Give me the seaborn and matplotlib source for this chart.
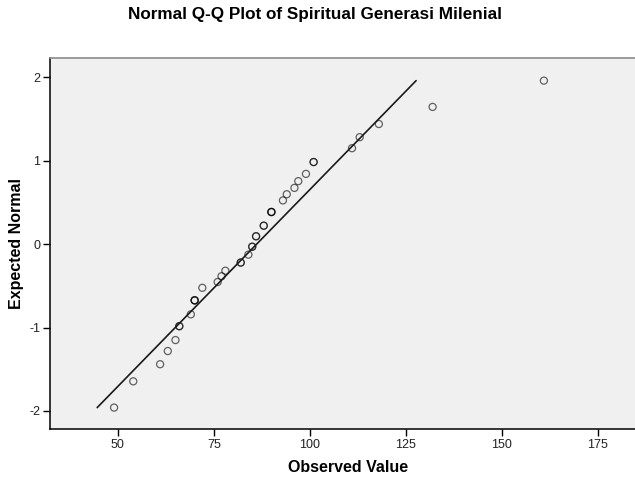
import numpy as np
import pandas as pd
import matplotlib
matplotlib.use("Agg")
import matplotlib.pyplot as plt
import seaborn as sns

# observed scores (ties repeated) and their expected normal values
observed = [49, 54, 61, 63, 65, 66, 66, 69, 70, 70, 70, 72, 76, 77, 78,
            82, 82, 84, 85, 85, 86, 86, 88, 88, 90, 90, 90, 93, 94, 96,
            97, 99, 101, 101, 111, 113, 118, 132, 161]
expected = [-1.960, -1.645, -1.440, -1.282, -1.150, -0.984, -0.984, -0.842,
            -0.674, -0.674, -0.674, -0.524, -0.454, -0.385, -0.319,
            -0.221, -0.221, -0.126, -0.031, -0.031, 0.094, 0.094,
            0.221, 0.221, 0.385, 0.385, 0.385, 0.524, 0.598, 0.674,
            0.755, 0.842, 0.984, 0.984, 1.150, 1.282, 1.440, 1.645, 1.960]

# reference line (mean 86.1, sd 21.2)
line_x = [44.6, 127.7]
line_y = [-1.96, 1.96]

x_ticks = [50, 75, 100, 125, 150, 175]
y_ticks = [-2, -1, 0, 1, 2]

df = pd.DataFrame({"Observed Value": observed, "Expected Normal": expected})

sns.set_style("ticks", {"axes.facecolor": "#F0F0F0"})
plt.rcParams["font.family"] = ["Liberation Sans", "DejaVu Sans"]
plt.rcParams["axes.unicode_minus"] = False
plt.rcParams["text.color"] = "black"
plt.rcParams["axes.labelcolor"] = "black"
plt.rcParams["xtick.color"] = "black"
plt.rcParams["ytick.color"] = "black"

fig = plt.figure(figsize=(6.35, 4.79), dpi=100)
ax = fig.add_axes([0.0787, 0.1038, 0.9386, 0.7745])

sns.lineplot(x=line_x, y=line_y, color="#1a1a1a", linewidth=1.2, ax=ax)
sns.scatterplot(data=df, x="Observed Value", y="Expected Normal", ax=ax,
                marker="o", s=26, facecolor="none", edgecolor="black",
                linewidth=0.9, alpha=0.6)

ax.set_xlim(32.3, 187.6)
ax.set_ylim(-2.22, 2.228)
ax.set_xticks(x_ticks)
ax.set_yticks(y_ticks)
ax.tick_params(direction="out", length=5, width=1, labelsize=9,
               color="black", labelcolor="#222222", pad=2)

for side in ["left", "bottom"]:
    ax.spines[side].set_color("black")
    ax.spines[side].set_linewidth(1.1)
ax.spines["top"].set_visible(True)
ax.spines["top"].set_color("#8a8a8a")
ax.spines["top"].set_linewidth(1.2)
ax.spines["right"].set_visible(False)

ax.set_xlabel("Observed Value", fontsize=11.5, fontweight="bold")
ax.set_ylabel("Expected Normal", fontsize=11.5, fontweight="bold")
ax.xaxis.set_label_coords(0.5, -0.084)
ax.yaxis.set_label_coords(-0.0436, 0.5)

fig.text(0.496, 1 - 15 / 479, "Normal Q-Q Plot of Spiritual Generasi Milenial",
         ha="center", va="center", fontsize=12.3, fontweight="bold")

fig.savefig("out.png", dpi=100)
